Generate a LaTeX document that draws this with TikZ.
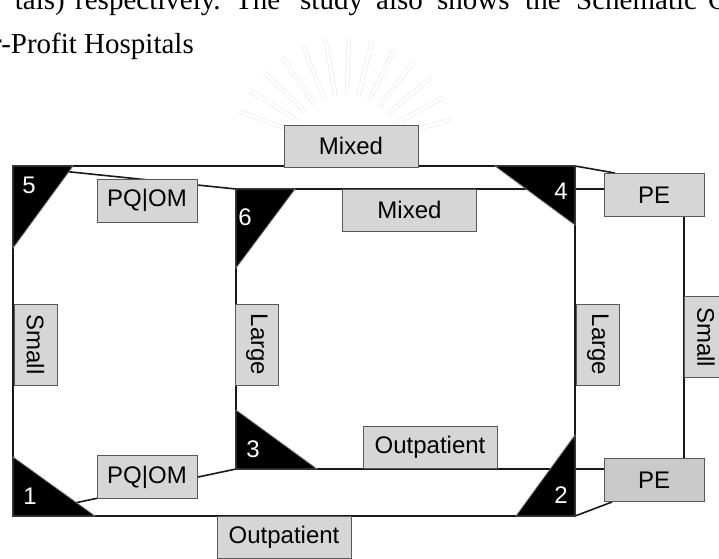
\documentclass[tikz,border=0pt]{standalone}
\usepackage{fontspec}
\setmainfont{Liberation Serif}
\newfontfamily\arialf{Liberation Sans}
\usetikzlibrary{calc}
\begin{document}
\begin{tikzpicture}[x=1pt,y=-1pt,
  edge/.style={line width=1.6pt, draw=black!90},
  lbl/.style={draw=black!65, fill=gray!32, line width=1pt, inner sep=0pt, font=\arialf\fontsize{24}{24}\selectfont, text=black},
  hbox/.style={lbl, minimum width=100pt, minimum height=43pt},
  wbox/.style={lbl, minimum width=134pt, minimum height=42pt},
  vbox/.style={lbl, rotate=-90, minimum width=81pt, minimum height=43pt},
  tri/.style={fill=black, draw=black!55, line width=0.8pt},
  num/.style={text=white, font=\arialf\fontsize{24}{24}\selectfont, inner sep=0pt},
  wm/.style={draw=gray!18, double=white, double distance=3pt, line width=0.6pt},
  para/.style={font=\fontsize{29}{29}\selectfont, inner sep=0pt}
]
\useasboundingbox (0,0) rectangle (719,558);
\fill[white] (0,0) rectangle (719,558);

% faint watermark
\coordinate (wc) at (345,150);
\foreach \a in {200,212,...,344} {
  \draw[wm] ($(wc)+(\a:55)$) -- ($(wc)+(\a:112)$);
}
\draw[gray!22, line width=0.8pt] (333,136) circle (8);

% paragraph fragment
\node[para, anchor=base east] (w1) at (65,9) {tals)};
\node[para, anchor=base west] (w2) at (75,9) {respectively.};
\node[para, anchor=base west] (w3) at (235,9) {The};
\node[para, anchor=base west] (w4) at (300,9) {study};
\node[para, anchor=base west] (w5) at (376,9) {also};
\node[para, anchor=base west] (w6) at (437,9) {shows};
\node[para, anchor=base west] (w7) at (525,9) {the};
\node[para, anchor=base west] (w8) at (576,9) {Schematic};
\node[para, anchor=base west] (w9) at (708,9) {O};
\node[para, anchor=base east] (l2) at (194,53) {r-Profit Hospitals};

% corners
\coordinate (c5) at (13,166);
\coordinate (c1) at (13,516);
\coordinate (c2) at (575,516);
\coordinate (c4) at (575,166);
\coordinate (c6) at (236,189);
\coordinate (c3) at (236,469);
\coordinate (r6) at (575,189);
\coordinate (r3) at (575,469);
\coordinate (PEtc) at (654,195);
\coordinate (PEbc) at (654,480);

% lines
\draw[edge] (c5) -- (c4) -- (c2) -- (c1) -- cycle;
\draw[edge] (c6) -- (r6);
\draw[edge] (c6) -- (c3) -- (r3);
\draw[edge] (c5) -- (c6);
\draw[edge] (c1) -- (c3);
\draw[edge] (r6) -- (605,189);
\draw[edge] (r3) -- (605,469);
\draw[edge] (c4) -- (615,173);
\draw[edge] (c2) -- (612,502);
\draw[edge] (684,217) -- (684,458);

% triangles
\fill[tri] (c5) -- (73,166) -- (13,248) -- cycle;
\fill[tri] (c6) -- (295,189) -- (236,268) -- cycle;
\fill[tri] (c4) -- (495,166) -- (575,225) -- cycle;
\fill[tri] (c1) -- (13,457) -- (95,516) -- cycle;
\fill[tri] (c3) -- (236,410) -- (317,469) -- cycle;
\fill[tri] (c2) -- (575,435) -- (516,516) -- cycle;

\node[num] (n5) at (29,185) {5};
\node[num] (n6) at (245,217) {6};
\node[num] (n4) at (561,191) {4};
\node[num] (n1) at (30,496) {1};
\node[num] (n3) at (253,449) {3};
\node[num] (n2) at (561,495) {2};

% label boxes
\node[wbox] (mixT) at (351,146) {Mixed};
\node[wbox] (mixI) at (409.5,210) {Mixed};
\node[hbox] (pqT) at (147,200.5) {PQ|OM};
\node[hbox] (pqB) at (147,477) {PQ|OM};
\node[hbox] (PEt) at (PEtc) {PE};
\node[hbox, fill=gray!42] (PEb) at (PEbc) {PE};
\node[vbox] (smL) at (35.5,344.5) {Small};
\node[vbox] (lgI) at (257,344.5) {Large};
\node[vbox] (lgR) at (598,344.5) {Large};
\node[vbox] (smR) at (706,337) {Small};
\node[wbox] (outI) at (430,447.5) {Outpatient};
\node[wbox] (outB) at (284,537) {Outpatient};
\end{tikzpicture}
\end{document}
